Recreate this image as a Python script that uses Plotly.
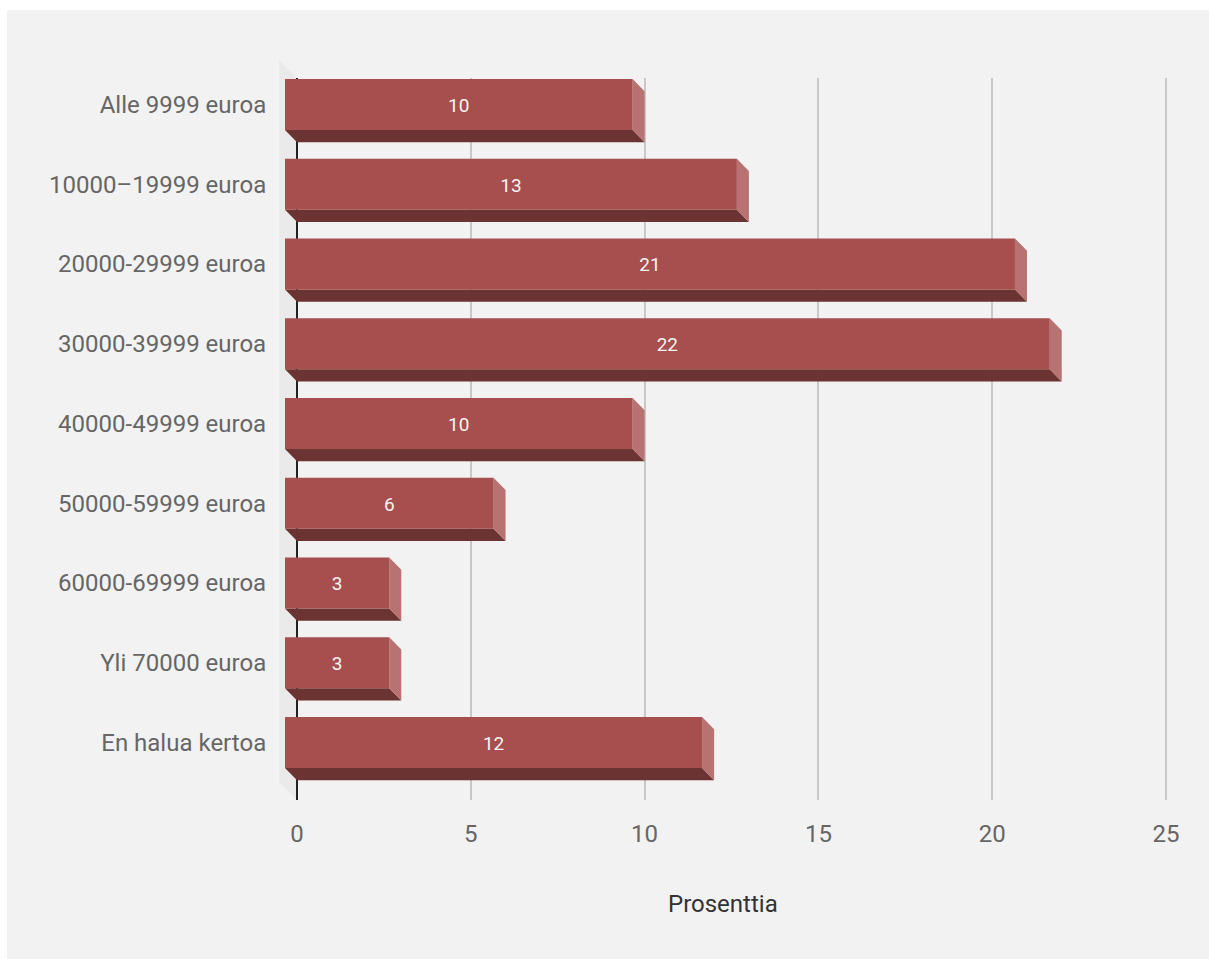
import plotly.graph_objects as go

# Tulojakauma: vastaajien osuus (%) tuloluokittain
categories = [
    "Alle 9999 euroa",
    "10000\u201319999 euroa",
    "20000-29999 euroa",
    "30000-39999 euroa",
    "40000-49999 euroa",
    "50000-59999 euroa",
    "60000-69999 euroa",
    "Yli 70000 euroa",
    "En halua kertoa",
]
values = [10, 13, 21, 22, 10, 6, 3, 3, 12]
x_ticks = [0, 5, 10, 15, 20, 25]

# Layout geometry (pixels)
W, H = 1209, 959
ML, MR, MT, MB = 278, 39, 78, 159
PLOT_W = W - ML - MR
PLOT_H = H - MT - MB
PX_PER_X = 34.76                 # pixels per percent unit
X0_PX = 19                       # distance of x=0 from left plot edge
CAT_PX = 79.75                   # pixels between category rows
FIRST_ROW_PX = 26.5              # first row centre below plot top

x_min = -X0_PX / PX_PER_X
x_max = x_min + PLOT_W / PX_PER_X
y_top = -FIRST_ROW_PX / CAT_PX
y_bottom = y_top + PLOT_H / CAT_PX

# 3D box look: depth offset of the back face, front face half height
DX = 12 / PX_PER_X
DY = 12.3 / CAT_PX
HALF = 25.5 / CAT_PX
LABEL_SHIFT = 2.5 / CAT_PX

FRONT = "#a64f4e"
BOTTOM = "#6b3332"
SIDE = "#b87271"

front_x, front_y = [], []
bottom_x, bottom_y = [], []
side_x, side_y = [], []
for i, v in enumerate(values):
    l, r = -DX, v - DX
    t, b = i - HALF, i + HALF
    front_x += [l, r, r, l, l, None]
    front_y += [t, t, b, b, t, None]
    bottom_x += [l, r, v, 0, l, None]
    bottom_y += [b, b, b + DY, b + DY, b, None]
    side_x += [r, v, v, r, r, None]
    side_y += [t, t + DY, b + DY, b, t, None]

fig = go.Figure()
for xs, ys, col in [(bottom_x, bottom_y, BOTTOM), (side_x, side_y, SIDE),
                    (front_x, front_y, FRONT)]:
    fig.add_trace(go.Scatter(
        x=xs, y=ys, mode="lines", fill="toself", fillcolor=col,
        line=dict(width=0, color=col), hoverinfo="skip", showlegend=False,
    ))

# Value labels centred on the front face
fig.add_trace(go.Scatter(
    x=[v / 2 - DX for v in values],
    y=[i + LABEL_SHIFT for i in range(len(values))],
    mode="text",
    text=[str(v) for v in values],
    textfont=dict(family="Roboto", size=19, color="#f4f4f4"),
    hoverinfo="skip", showlegend=False,
))


def px_to_paper_x(px):
    return (px - ML) / PLOT_W


def px_to_paper_y(py):
    return (H - MB - py) / PLOT_H


shapes = [
    # chart panel background
    dict(type="rect", xref="paper", yref="paper", layer="below",
         x0=px_to_paper_x(7), x1=px_to_paper_x(W + 2),
         y0=px_to_paper_y(H + 2), y1=px_to_paper_y(10),
         fillcolor="#f2f2f2", line=dict(width=0)),
    # side wall left of the category axis
    dict(type="path", xref="paper", yref="paper", layer="below",
         path="M {a},{b} L {c},{d} L {c},{e} L {a},{f} Z".format(
             a=px_to_paper_x(279), b=px_to_paper_y(60),
             c=px_to_paper_x(297), d=px_to_paper_y(78),
             e=px_to_paper_y(800), f=px_to_paper_y(782)),
         fillcolor="#eaeaea", line=dict(width=0)),
]

fig.update_layout(
    width=W, height=H,
    margin=dict(l=ML, r=MR, t=MT, b=MB, pad=0),
    paper_bgcolor="white",
    plot_bgcolor="rgba(0,0,0,0)",
    font=dict(family="Roboto", color="#666666", size=24),
    shapes=shapes,
    xaxis=dict(
        range=[x_min, x_max],
        tickvals=x_ticks,
        ticktext=[str(t) for t in x_ticks],
        showgrid=True, gridcolor="#c8c8c8", gridwidth=2,
        zeroline=True, zerolinecolor="#222222", zerolinewidth=2,
        showline=False,
        ticks="outside", ticklen=12, tickcolor="rgba(0,0,0,0)",
        tickfont=dict(size=24, color="#666666"),
        fixedrange=True,
    ),
    yaxis=dict(
        range=[y_bottom, y_top],
        tickvals=list(range(len(categories))),
        ticktext=categories,
        showgrid=False, zeroline=False, showline=False,
        ticks="outside", ticklen=6, tickcolor="rgba(0,0,0,0)",
        tickfont=dict(size=24, color="#666666"),
        fixedrange=True,
    ),
    annotations=[dict(
        text="Prosenttia", xref="paper", yref="paper",
        x=px_to_paper_x(723), y=px_to_paper_y(904),
        xanchor="center", yanchor="middle", showarrow=False,
        font=dict(family="Roboto", size=24, color="#333333"),
    )],
)

fig.write_html("out.html")
